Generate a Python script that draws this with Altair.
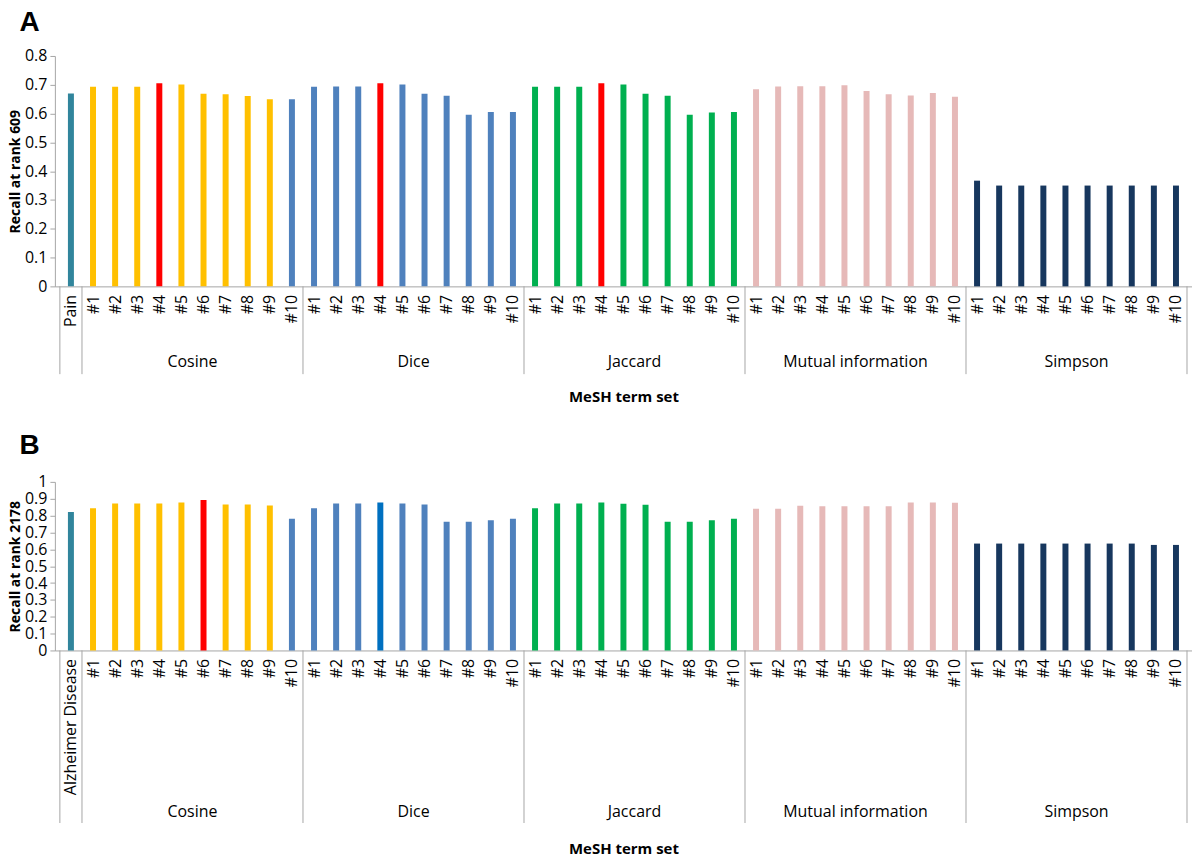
import altair as alt
import pandas as pd

# ---------------- data ----------------
groups = ["Cosine", "Dice", "Jaccard", "Mutual information", "Simpson"]
set_labels = ["#1", "#2", "#3", "#4", "#5", "#6", "#7", "#8", "#9", "#10"]

# Panel A: recall at rank 609 (baseline query "Pain")
a_baseline_label = "Pain"
a_baseline_value = 0.670
a_cosine = [0.693, 0.693, 0.693, 0.705, 0.701, 0.669, 0.667, 0.661, 0.650, 0.650]
a_dice = [0.693, 0.694, 0.694, 0.705, 0.701, 0.669, 0.662, 0.596, 0.605, 0.605]
a_jaccard = [0.693, 0.693, 0.693, 0.705, 0.701, 0.669, 0.662, 0.596, 0.604, 0.605]
a_mutual = [0.684, 0.694, 0.695, 0.695, 0.698, 0.678, 0.667, 0.663, 0.671, 0.658]
a_simpson = [0.367, 0.350, 0.350, 0.350, 0.350, 0.350, 0.350, 0.350, 0.350, 0.350]

# Panel B: recall at rank 2178 (baseline query "Alzheimer Disease")
b_baseline_label = "Alzheimer Disease"
b_baseline_value = 0.822
b_cosine = [0.844, 0.872, 0.872, 0.872, 0.878, 0.892, 0.866, 0.866, 0.860, 0.782]
b_dice = [0.844, 0.872, 0.872, 0.878, 0.872, 0.866, 0.764, 0.764, 0.772, 0.782]
b_jaccard = [0.844, 0.872, 0.872, 0.878, 0.870, 0.864, 0.764, 0.764, 0.772, 0.782]
b_mutual = [0.840, 0.840, 0.858, 0.856, 0.856, 0.856, 0.856, 0.878, 0.878, 0.876]
b_simpson = [0.634, 0.634, 0.634, 0.634, 0.634, 0.634, 0.634, 0.634, 0.626, 0.626]

# ---------------- colours ----------------
TEAL, ORANGE, RED, BLUE, DBLUE = "#31859C", "#FFC000", "#FF0000", "#4F81BD", "#0070C0"
GREEN, PINK, NAVY = "#00B050", "#E6B9B8", "#17375E"

a_colors = ([TEAL]
            + [ORANGE] * 3 + [RED] + [ORANGE] * 5 + [BLUE]
            + [BLUE] * 3 + [RED] + [BLUE] * 6
            + [GREEN] * 3 + [RED] + [GREEN] * 6
            + [PINK] * 10
            + [NAVY] * 10)
b_colors = ([TEAL]
            + [ORANGE] * 5 + [RED] + [ORANGE] * 3 + [BLUE]
            + [BLUE] * 3 + [DBLUE] + [BLUE] * 6
            + [GREEN] * 10
            + [PINK] * 10
            + [NAVY] * 10)

FONT = "Open Sans"
AXIS_GRAY = "#A6A6A6"
PLOT_W = 1140


def panel(letter, base_label, base_value, series, colors, ytitle, ymax,
          height, label_depth, group_label_y, xtitle_y, title_offset):
    labels = [base_label]
    values = [base_value]
    for s in series:
        labels += set_labels
        values += s
    n = len(values)
    df = pd.DataFrame({"idx": list(range(n)), "value": values,
                       "color": colors, "label": labels})

    # separator positions and group centres derived from group sizes
    seps = [-0.5, 0.5]
    centres = []
    start = 1
    for s in series:
        end = start + len(s) - 1
        centres.append((start + end) / 2)
        seps.append(end + 0.5)
        start = end + 1
    sep_df = pd.DataFrame({"idx": seps})
    grp_df = pd.DataFrame({"idx": centres, "g": groups})

    label_js = "[" + ",".join("'" + l + "'" for l in labels) + "]"
    xscale = alt.Scale(domain=[-0.5, n - 0.5], nice=False, zero=False)
    yticks = [round(i * 0.1, 1) for i in range(int(round(ymax * 10)) + 1)]

    xaxis = alt.Axis(values=list(range(n)),
                     labelExpr=label_js + "[datum.value]",
                     labelAngle=270, labelAlign="right", labelBaseline="middle",
                     ticks=False, grid=False, domainColor=AXIS_GRAY,
                     labelFont=FONT, labelFontSize=16, labelColor="black",
                     labelPadding=8, labelOverlap=False, labelFlush=False,
                     labelSeparation=0,
                     title="MeSH term set", titleFont=FONT, titleFontSize=15,
                     titleFontWeight="bold", titleColor="black",
                     titleY=xtitle_y, titleBaseline="middle")

    bars = alt.Chart(df).mark_bar(width=6).encode(
        x=alt.X("idx:Q", scale=xscale, axis=xaxis),
        y=alt.Y("value:Q", scale=alt.Scale(domain=[0, ymax], nice=False),
                axis=alt.Axis(values=yticks, format="~g", grid=False,
                              domainColor=AXIS_GRAY, tickColor=AXIS_GRAY, tickSize=5,
                              labelFont=FONT, labelFontSize=16, labelColor="black",
                              labelPadding=3, labelOverlap=False,
                              title=ytitle, titleFont=FONT, titleFontSize=14,
                              titleFontWeight="bold", titleColor="black",
                              titlePadding=2)),
        color=alt.Color("color:N", scale=None),
    )

    seps_layer = alt.Chart(sep_df).mark_rule(color=AXIS_GRAY, strokeWidth=1).encode(
        x=alt.X("idx:Q", scale=xscale, axis=xaxis),
        y=alt.value(height),
        y2=alt.value(height + label_depth),
    )

    grp_layer = alt.Chart(grp_df).mark_text(font=FONT, fontSize=16, color="black",
                                            baseline="middle").encode(
        x=alt.X("idx:Q", scale=xscale, axis=xaxis),
        y=alt.value(height + group_label_y),
        text="g:N",
    )

    return alt.layer(bars, seps_layer, grp_layer).properties(
        width=PLOT_W, height=height,
        title=alt.TitleParams(letter, anchor="start", font="Liberation Sans",
                              fontSize=28, fontWeight="bold", color="black",
                              offset=title_offset, dx=11),
    )


chart_a = panel("A", a_baseline_label, a_baseline_value,
                [a_cosine, a_dice, a_jaccard, a_mutual, a_simpson], a_colors,
                "Recall at rank 609", 0.8, 231, 88, 76, 110, 11)
chart_b = panel("B", b_baseline_label, b_baseline_value,
                [b_cosine, b_dice, b_jaccard, b_mutual, b_simpson], b_colors,
                "Recall at rank 2178", 1.0, 169, 173, 162, 199, 14)

chart = alt.vconcat(chart_a, chart_b, spacing=28).properties(
    padding={"left": 0, "top": 0, "right": 0, "bottom": 0},
    background="white",
).configure_view(stroke=None)

chart.save("out.html", embed_options={"renderer": "svg", "actions": False})
